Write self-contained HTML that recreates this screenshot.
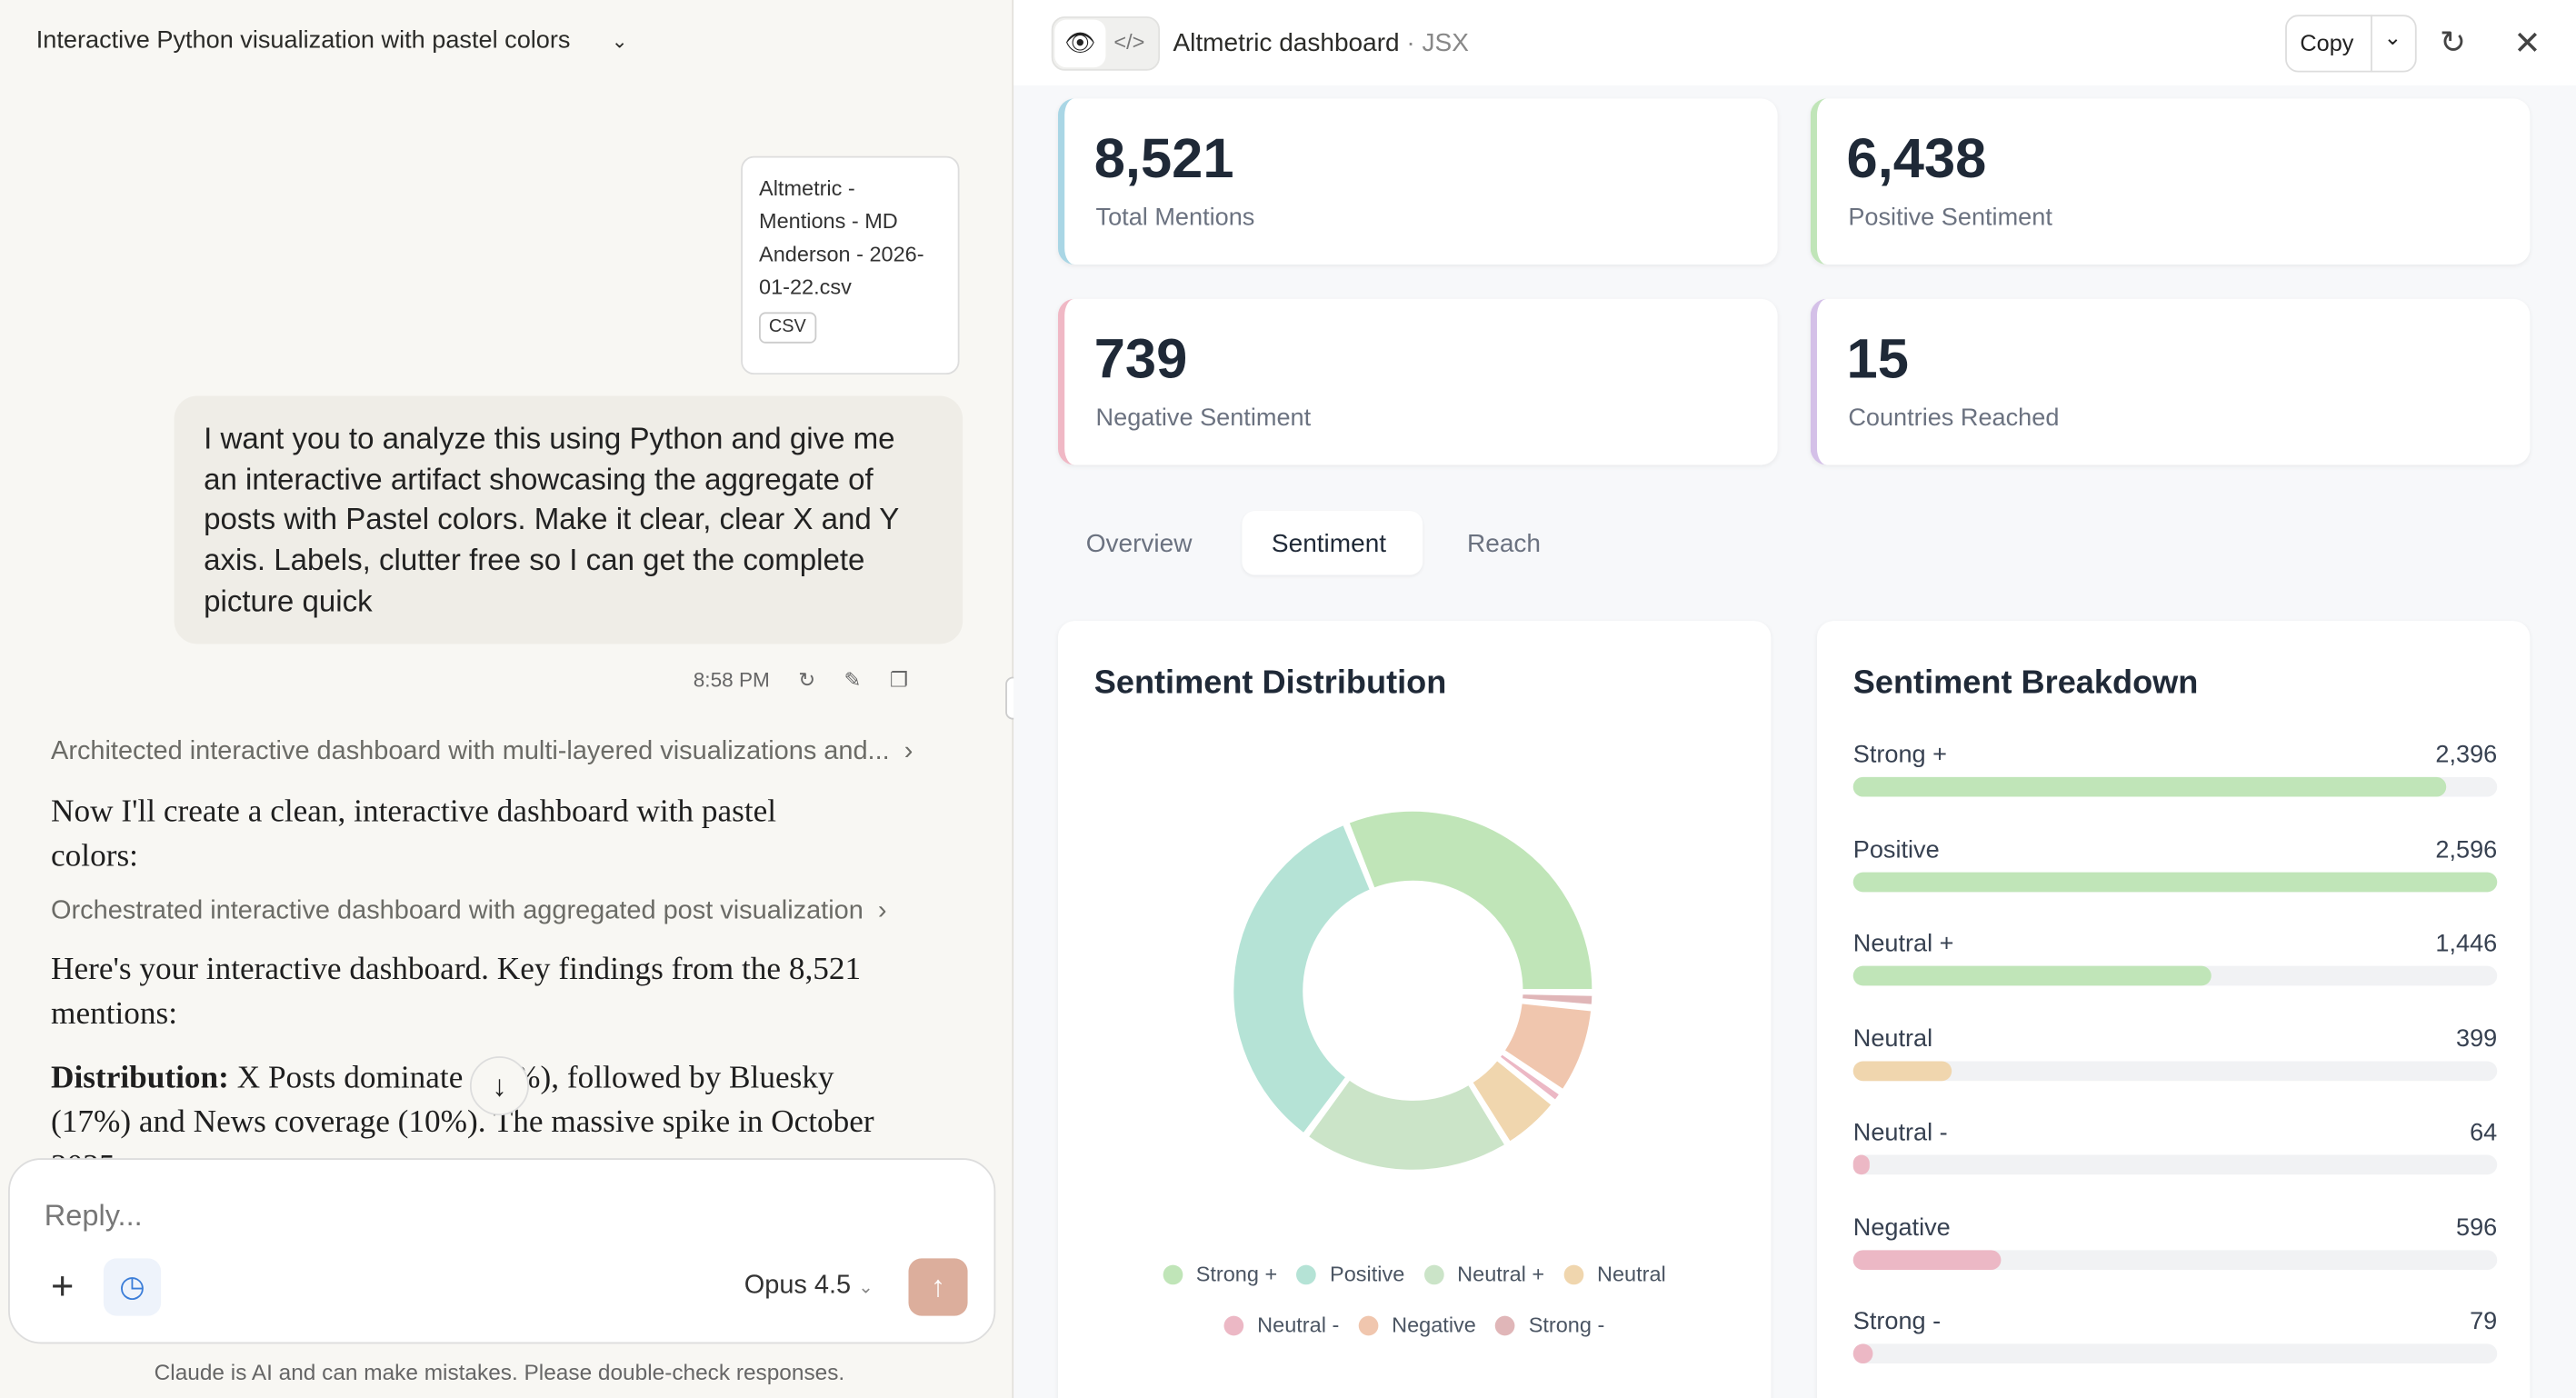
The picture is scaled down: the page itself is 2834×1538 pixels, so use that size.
<!DOCTYPE html>
<html><head><meta charset="utf-8"><style>
*{box-sizing:border-box;margin:0;padding:0}
html,body{width:2834px;height:1538px;overflow:hidden;background:#f8f8f6}
#w{position:absolute;left:0;top:0;width:1568px;height:851px;overflow:hidden;transform:scale(1.80740,1.80729);transform-origin:0 0;font-family:"Liberation Sans",sans-serif;color:#222}
.a{position:absolute}
.serif{font-family:"Liberation Serif",serif}
.card{position:absolute;background:#fff;border-radius:10px;box-shadow:0 1px 3px rgba(0,0,0,.06)}
.num{position:absolute;left:18px;top:18px;font-size:34px;font-weight:bold;color:#1f2937}
.lab{position:absolute;left:19px;top:64px;font-size:15px;color:#6b7280}
.row{position:absolute;left:22px;width:392px;font-size:15px;color:#374151}
.row .v{position:absolute;right:0;top:0}
.trk{position:absolute;left:0;top:22px;width:392px;height:12px;border-radius:6px;background:#f1f2f4}
.fil{position:absolute;left:0;top:0;height:12px;border-radius:6px}
.lg{font-size:13px;color:#4b5563;display:inline-flex;align-items:center;margin:0 6px}
.lg i{width:12px;height:12px;border-radius:6px;display:inline-block;margin-right:8px}
</style></head><body><div id="w">
<div class="a" style="left:0;top:0;width:616px;height:851px;background:#f8f7f3"></div>
<div class="a" style="left:22px;top:16px;font-size:15px;color:#2b2b28">Interactive Python visualization with pastel colors &nbsp;&nbsp;&nbsp;&nbsp; <span style="font-size:12px">&#8964;</span></div>
<div class="a" style="left:451px;top:95px;width:133px;height:133px;background:#fff;border:1px solid #ddd;border-radius:8px;padding:9px 10px;font-size:13px;line-height:20px;color:#333">Altmetric - Mentions - MD Anderson - 2026-01-22.csv<br><div style="margin-top:5px;border:1px solid #ccc;border-radius:4px;display:inline-block;padding:0 5px;font-size:11px;line-height:17px">CSV</div></div>
<div class="a" style="left:106px;top:241px;width:480px;height:151px;background:#efede7;border-radius:14px;padding:14px 18px;font-size:18.3px;line-height:24.7px;color:#222">I want you to analyze this using Python and give me an interactive artifact showcasing the aggregate of posts with Pastel colors. Make it clear, clear X and Y axis. Labels, clutter free so I can get the complete picture quick</div>
<div class="a" style="left:422px;top:406px;font-size:12.5px;color:#666">8:58 PM &nbsp;&nbsp;&nbsp; ↻ &nbsp;&nbsp;&nbsp; ✎ &nbsp;&nbsp;&nbsp; ❐</div>
<div class="a" style="left:31px;top:449px;font-size:16px;color:#6b6b66">Architected interactive dashboard with multi-layered visualizations and... &nbsp;›</div>
<div class="a serif" style="left:31px;top:481px;width:490px;font-size:19.5px;line-height:27px;color:#1f1f1f">Now I'll create a clean, interactive dashboard with pastel colors:</div>
<div class="a" style="left:31px;top:546px;font-size:16px;color:#6b6b66">Orchestrated interactive dashboard with aggregated post visualization &nbsp;›</div>
<div class="a serif" style="left:31px;top:577px;width:540px;font-size:19.5px;line-height:27px;color:#1f1f1f">Here's your interactive dashboard. Key findings from the 8,521 mentions:</div>
<div class="a serif" style="left:31px;top:643px;width:530px;font-size:19.5px;line-height:27px;color:#1f1f1f"><b>Distribution:</b> X Posts dominate (57%), followed by Bluesky (17%) and News coverage (10%). The massive spike in October 2025 ...</div>
<div class="a" style="left:286px;top:643px;width:36px;height:36px;border-radius:18px;background:#f8f7f3;border:1px solid #ddd;text-align:center;line-height:34px;font-size:18px">↓</div>
<div class="a" style="left:0;top:706px;width:616px;height:145px;background:#f8f7f3"></div>
<div class="a" style="left:5px;top:705px;width:601px;height:113px;background:#fff;border:1px solid #ddd;border-radius:20px"></div>
<div class="a" style="left:27px;top:730px;font-size:18px;color:#777">Reply...</div>
<div class="a" style="left:31px;top:770px;font-size:24px;font-weight:300;color:#333">+</div>
<div class="a" style="left:63px;top:766px;width:35px;height:35px;border-radius:8px;background:#eef3fb;color:#3b7dd8;text-align:center;line-height:35px;font-size:18px">◷</div>
<div class="a" style="left:453px;top:774px;font-size:16px;color:#333">Opus 4.5 <span style="font-size:11px;color:#888">&#8964;</span></div>
<div class="a" style="left:553px;top:766px;width:36px;height:35px;border-radius:8px;background:#dcae9c;color:#fff;text-align:center;line-height:35px;font-size:18px">↑</div>
<div class="a" style="left:0;top:828px;width:608px;text-align:center;font-size:13.5px;color:#666">Claude is AI and can make mistakes. Please double-check responses.</div>
<div class="a" style="left:616px;top:0;width:1px;height:851px;background:#e2e0da"></div>
<div class="a" style="left:612px;top:412px;width:9px;height:26px;border-radius:5px;background:#fff;border:1px solid #ccc"></div>
<div class="a" style="left:617px;top:0;width:951px;height:851px;background:#f7f8fa"></div>
<div class="a" style="left:617px;top:0;width:951px;height:52px;background:#fff"></div>
<div class="a" style="left:640px;top:10px;width:66px;height:33px;border-radius:8px;background:#f0f0ee;border:1px solid #e2e2e0"></div>
<div class="a" style="left:642px;top:12px;width:31px;height:29px;border-radius:7px;background:#fff;text-align:center;line-height:29px;font-size:15px">👁</div>
<div class="a" style="left:678px;top:18px;font-size:13px;color:#777">&lt;/&gt;</div>
<div class="a" style="left:714px;top:18px;font-size:15.5px;color:#2b2b28">Altmetric dashboard <span style="color:#888">· JSX</span></div>
<div class="a" style="left:1391px;top:9px;width:80px;height:35px;border:1px solid #ddd;border-radius:8px;background:#fff"></div>
<div class="a" style="left:1400px;top:18px;font-size:14px;color:#222">Copy</div>
<div class="a" style="left:1443px;top:9px;width:1px;height:35px;background:#ddd"></div>
<div class="a" style="left:1451px;top:15px;font-size:13px">&#8964;</div>
<div class="a" style="left:1485px;top:15px;font-size:19px;color:#444">↻</div>
<div class="a" style="left:1530px;top:14px;font-size:20px;color:#444">✕</div>
<div class="card" style="left:644px;top:60px;width:438px;height:101px;border-left:4px solid #a9d6e5"><div class="num">8,521</div><div class="lab">Total Mentions</div></div>
<div class="card" style="left:1102px;top:60px;width:438px;height:101px;border-left:4px solid #c0e5b8"><div class="num">6,438</div><div class="lab">Positive Sentiment</div></div>
<div class="card" style="left:644px;top:182px;width:438px;height:101px;border-left:4px solid #f0b8c5"><div class="num">739</div><div class="lab">Negative Sentiment</div></div>
<div class="card" style="left:1102px;top:182px;width:438px;height:101px;border-left:4px solid #d4c0e8"><div class="num">15</div><div class="lab">Countries Reached</div></div>
<div class="a" style="left:661px;top:323px;font-size:15.5px;color:#6b7280">Overview</div>
<div class="a" style="left:756px;top:311px;width:110px;height:39px;border-radius:8px;background:#fff;box-shadow:0 1px 2px rgba(0,0,0,.05)"></div>
<div class="a" style="left:774px;top:323px;font-size:15.5px;color:#1f2937">Sentiment</div>
<div class="a" style="left:893px;top:323px;font-size:15.5px;color:#6b7280">Reach</div>
<div class="card" style="left:644px;top:378px;width:434px;height:490px">
 <div class="a" style="left:22px;top:27px;font-size:20px;font-weight:bold;color:#1f2937">Sentiment Distribution</div>
 <svg class="a" style="left:0;top:0" width="434" height="480" id="d"></svg>
 <div class="a" style="left:0;top:390px;width:434px;text-align:center"><span class="lg"><i style="background:#c0e5b8"></i>Strong +</span><span class="lg"><i style="background:#b5e3d6"></i>Positive</span><span class="lg"><i style="background:#cbe4c8"></i>Neutral +</span><span class="lg"><i style="background:#f0d6ae"></i>Neutral</span></div>
 <div class="a" style="left:0;top:421px;width:434px;text-align:center"><span class="lg"><i style="background:#ecb8c5"></i>Neutral -</span><span class="lg"><i style="background:#f0c6ae"></i>Negative</span><span class="lg"><i style="background:#e0b6b8"></i>Strong -</span></div>
</div>
<div class="card" style="left:1106px;top:378px;width:434px;height:490px">
 <div class="a" style="left:22px;top:27px;font-size:20px;font-weight:bold;color:#1f2937">Sentiment Breakdown</div>
 <div class="row" style="top:73px">Strong +<span class="v">2,396</span><div class="trk"><div class="fil" style="width:361px;background:#c0e5b8"></div></div></div>
 <div class="row" style="top:131px">Positive<span class="v">2,596</span><div class="trk"><div class="fil" style="width:392px;background:#c0e5b8"></div></div></div>
 <div class="row" style="top:188px">Neutral +<span class="v">1,446</span><div class="trk"><div class="fil" style="width:218px;background:#c0e5b8"></div></div></div>
 <div class="row" style="top:246px">Neutral<span class="v">399</span><div class="trk"><div class="fil" style="width:60px;background:#f0d6ae"></div></div></div>
 <div class="row" style="top:303px">Neutral -<span class="v">64</span><div class="trk"><div class="fil" style="width:10px;background:#ecb8c5"></div></div></div>
 <div class="row" style="top:361px">Negative<span class="v">596</span><div class="trk"><div class="fil" style="width:90px;background:#ecb8c5"></div></div></div>
 <div class="row" style="top:418px">Strong -<span class="v">79</span><div class="trk"><div class="fil" style="width:12px;background:#ecb8c5"></div></div></div>
</div>
</div>
<script>
var data=[[2396,"#c0e5b8"],[2596,"#b5e3d6"],[1446,"#cbe4c8"],[399,"#f0d6ae"],[64,"#ecb8c5"],[596,"#f0c6ae"],[79,"#e0b6b8"]];
var tot=0;data.forEach(function(d){tot+=d[0]});
var cx=216,cy=225,R=110,r=66,pad=1.2,a=0,s="";
var avail=360-pad*data.length;
function pt(rad,ang){var t=ang*Math.PI/180;return (cx+rad*Math.cos(t)).toFixed(2)+","+(cy-rad*Math.sin(t)).toFixed(2)}
data.forEach(function(d){var sw=d[0]/tot*avail;var a0=a,a1=a+sw;var lg=sw>180?1:0;
s+='<path fill="'+d[1]+'" stroke="#fff" stroke-width="2" d="M'+pt(R,a0)+' A'+R+','+R+' 0 '+lg+' 0 '+pt(R,a1)+' L'+pt(r,a1)+' A'+r+','+r+' 0 '+lg+' 1 '+pt(r,a0)+' Z"/>';a=a1+pad;});
document.getElementById("d").innerHTML=s;
</script>
</body></html>
